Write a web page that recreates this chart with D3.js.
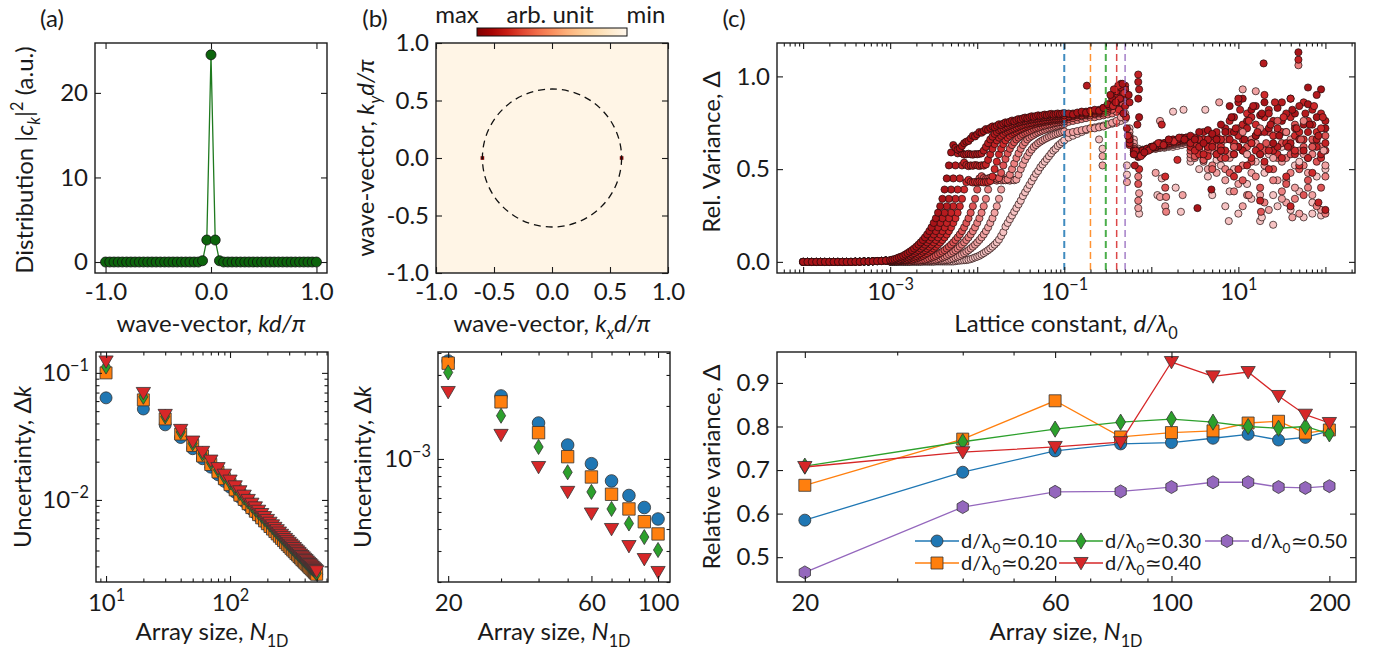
<!DOCTYPE html>
<html>
<head>
<meta charset="utf-8">
<script src="https://cdn.jsdelivr.net/npm/d3@7/dist/d3.min.js"></script>
<style>
  body { margin: 0; background: #fff; }
  svg text { font-family: Lato, "DejaVu Sans", sans-serif; fill: #1a1a1a; }
  .tick text { font-size: 24px; }
  .tick line { stroke: #1a1a1a; }
</style>
</head>
<body>
<svg id="fig" width="1380" height="654"></svg>
<script>
// ---------------- data ----------------
// (a) top: distribution |c_k|^2 vs kd/pi
const kGrid = d3.range(51).map(i => -1 + i * 0.04);
const distVals = [0,0,0,0,0,0,0,0,0,0, 0,0,0,0,0,0,0,0,0,0,
  0,0,0,0.15,2.6,24.5,2.6,0.15,0,0, 0,0,0,0,0,0,0,0,0,0, 0,0,0,0,0,0,0,0,0,0, 0];

// (b) top: bright spots of the 2D distribution
const spotKx = [-0.6, 0.6];
const spotKy = [0, 0];
const ringRadius = 0.6;

// (c) top: relative variance vs d/lambda0, log10 grids
const uTail = d3.range(20).map(i => -4 + i * 0.05);
const uMid = d3.range(81).map(i => -3 + i * 0.025);
const uPost = d3.range(28).map(i => -0.95 + i * 0.05);
const uNoise = d3.range(32).map(i => 0.45 + i * 0.05);

const relVarTail = [0,0,0,0,0,0,0,0,0,0,0,0,0.001,0.001,0.002,0.002,0.003,0.004,0.005,0.007];

const midA = [0.010,0.012,0.015,0.019,0.024,0.028,0.033,0.040,0.047,0.055,
  0.063,0.072,0.082,0.093,0.105,0.118,0.132,0.148,0.166,0.186,
  0.210,0.235,0.265,0.300,0.340,0.390,0.450,0.520,0.590,0.630,
  0.615,0.605,0.612,0.625,0.640,0.648,0.652,0.665,0.680,0.676,
  0.688,0.700,0.696,0.705,0.716,0.712,0.722,0.730,0.726,0.734,
  0.742,0.738,0.746,0.752,0.750,0.756,0.762,0.758,0.765,0.770,
  0.768,0.774,0.778,0.775,0.780,0.785,0.782,0.786,0.790,0.787,
  0.790,0.794,0.791,0.795,0.798,0.794,0.797,0.800,0.797,0.800, 0.802];
const midB = [0.007,0.008,0.009,0.010,0.012,0.015,0.019,0.024,0.028,0.033,
  0.040,0.047,0.055,0.063,0.072,0.082,0.093,0.105,0.118,0.132,
  0.148,0.166,0.186,0.210,0.235,0.265,0.300,0.340,0.390,0.450,
  0.520,0.585,0.600,0.585,0.578,0.580,0.583,0.580,0.578,0.581,
  0.580,0.582,0.585,0.600,0.620,0.640,0.660,0.675,0.690,0.700,
  0.710,0.715,0.720,0.726,0.730,0.735,0.740,0.745,0.748,0.752,
  0.755,0.758,0.760,0.763,0.766,0.768,0.770,0.772,0.774,0.776,
  0.778,0.780,0.781,0.782,0.784,0.785,0.786,0.787,0.788,0.789, 0.790];
const midC = [0.002,0.004,0.006,0.007,0.008,0.009,0.010,0.012,0.015,0.019,
  0.024,0.028,0.033,0.040,0.047,0.055,0.063,0.072,0.082,0.093,
  0.105,0.118,0.132,0.148,0.166,0.186,0.210,0.235,0.265,0.300,
  0.340,0.390,0.450,0.520,0.535,0.522,0.516,0.520,0.518,0.522,
  0.520,0.517,0.521,0.519,0.525,0.550,0.580,0.610,0.635,0.655,
  0.670,0.680,0.690,0.700,0.705,0.710,0.715,0.720,0.725,0.730,
  0.735,0.738,0.742,0.745,0.748,0.750,0.753,0.756,0.758,0.760,
  0.762,0.764,0.766,0.768,0.770,0.772,0.773,0.774,0.775,0.776, 0.778];
const midD = [0.002,0.002,0.002,0.002,0.004,0.006,0.007,0.008,0.009,0.010,
  0.012,0.015,0.019,0.024,0.028,0.033,0.040,0.047,0.055,0.063,
  0.072,0.082,0.093,0.105,0.118,0.132,0.148,0.166,0.186,0.210,
  0.235,0.265,0.300,0.340,0.390,0.430,0.442,0.432,0.428,0.431,
  0.429,0.432,0.430,0.428,0.431,0.430,0.436,0.460,0.500,0.540,
  0.580,0.610,0.635,0.655,0.670,0.680,0.690,0.697,0.703,0.710,
  0.715,0.720,0.725,0.730,0.734,0.738,0.742,0.745,0.748,0.750,
  0.753,0.755,0.757,0.759,0.761,0.763,0.765,0.766,0.767,0.768, 0.770];
const midE = [0.002,0.002,0.002,0.002,0.002,0.002,0.002,0.002,0.002,0.002,
  0.004,0.006,0.007,0.008,0.009,0.010,0.012,0.015,0.019,0.024,
  0.028,0.033,0.040,0.047,0.055,0.063,0.072,0.082,0.093,0.105,
  0.118,0.132,0.148,0.166,0.186,0.210,0.235,0.265,0.300,0.340,
  0.390,0.450,0.462,0.452,0.447,0.450,0.453,0.449,0.451,0.448,
  0.452,0.480,0.520,0.555,0.585,0.610,0.630,0.645,0.660,0.670,
  0.680,0.688,0.695,0.700,0.706,0.711,0.716,0.720,0.724,0.728,
  0.732,0.735,0.738,0.741,0.744,0.747,0.750,0.752,0.754,0.756, 0.758];
const midF = [0.002,0.002,0.002,0.002,0.002,0.002,0.002,0.002,0.002,0.002,
  0.002,0.002,0.002,0.002,0.002,0.004,0.006,0.007,0.008,0.009,
  0.010,0.012,0.015,0.019,0.024,0.028,0.033,0.040,0.047,0.055,
  0.063,0.072,0.082,0.093,0.105,0.118,0.132,0.148,0.166,0.186,
  0.210,0.235,0.265,0.300,0.340,0.390,0.440,0.452,0.442,0.438,
  0.441,0.439,0.442,0.440,0.445,0.470,0.500,0.530,0.560,0.585,
  0.610,0.630,0.645,0.660,0.670,0.678,0.685,0.692,0.698,0.703,
  0.708,0.712,0.716,0.720,0.724,0.728,0.731,0.734,0.737,0.740, 0.743];
const midG = [0.002,0.002,0.002,0.002,0.002,0.002,0.002,0.002,0.002,0.002,
  0.002,0.002,0.002,0.002,0.002,0.002,0.002,0.002,0.002,0.002,
  0.002,0.004,0.006,0.007,0.008,0.009,0.010,0.012,0.015,0.019,
  0.024,0.028,0.033,0.040,0.047,0.055,0.063,0.072,0.082,0.093,
  0.105,0.118,0.132,0.148,0.166,0.186,0.210,0.235,0.265,0.300,
  0.340,0.390,0.440,0.450,0.441,0.438,0.442,0.440,0.444,0.470,
  0.500,0.525,0.550,0.570,0.590,0.605,0.620,0.630,0.640,0.648,
  0.655,0.662,0.668,0.674,0.679,0.684,0.688,0.692,0.696,0.700, 0.703];
const midH = [0.002,0.002,0.002,0.002,0.002,0.002,0.002,0.002,0.002,0.002,
  0.002,0.002,0.002,0.002,0.002,0.002,0.002,0.002,0.002,0.002,
  0.002,0.002,0.002,0.002,0.002,0.002,0.002,0.002,0.002,0.002,
  0.004,0.006,0.007,0.008,0.009,0.010,0.012,0.015,0.019,0.024,
  0.028,0.033,0.040,0.047,0.055,0.063,0.072,0.082,0.093,0.105,
  0.120,0.140,0.160,0.190,0.210,0.230,0.250,0.270,0.290,0.310,
  0.330,0.355,0.375,0.395,0.415,0.435,0.455,0.475,0.490,0.510,
  0.525,0.540,0.555,0.570,0.585,0.600,0.610,0.625,0.635,0.645, 0.655];

const postA = [0.800,0.795,0.805,0.810,0.805,0.815,0.820,0.815,0.830,0.850,
  0.880,0.920,0.940,0.900,0.660,0.600,0.580,0.600,0.610,0.620,
  0.630,0.640,0.640,0.650,0.660,0.660,0.670,0.670];
const postB = [0.795,0.800,0.800,0.805,0.810,0.810,0.815,0.820,0.830,0.840,
  0.860,0.900,0.960,0.930,0.640,0.580,0.570,0.590,0.610,0.620,
  0.620,0.630,0.640,0.650,0.650,0.660,0.660,0.670];
const postC = [0.785,0.790,0.795,0.800,0.800,0.805,0.810,0.810,0.820,0.830,
  0.850,0.870,0.910,0.950,0.630,0.590,0.565,0.580,0.600,0.610,
  0.620,0.630,0.630,0.640,0.650,0.650,0.660,0.660];
const postD = [0.780,0.785,0.790,0.790,0.795,0.800,0.800,0.805,0.810,0.820,
  0.840,0.860,0.880,0.920,0.650,0.600,0.580,0.590,0.600,0.615,
  0.620,0.630,0.635,0.640,0.645,0.650,0.655,0.660];
const postE = [0.770,0.775,0.780,0.785,0.790,0.790,0.795,0.800,0.800,0.810,
  0.820,0.840,0.860,0.890,0.670,0.610,0.590,0.595,0.605,0.610,
  0.620,0.625,0.630,0.635,0.640,0.645,0.650,0.655];
const postF = [0.755,0.760,0.765,0.770,0.775,0.780,0.780,0.785,0.790,0.795,
  0.800,0.810,0.820,0.850,0.680,0.620,0.595,0.600,0.605,0.610,
  0.615,0.620,0.625,0.630,0.635,0.640,0.645,0.650];
const postG = [0.695,0.700,0.705,0.710,0.715,0.720,0.720,0.725,0.730,0.740,
  0.750,0.760,0.780,0.800,0.700,0.640,0.600,0.600,0.605,0.610,
  0.610,0.615,0.620,0.625,0.630,0.635,0.640,0.645];
const postH = [0.670,0.680,0.690,0.700,0.710,0.720,0.725,0.730,0.735,0.740,
  0.745,0.750,0.760,0.770,0.720,0.660,0.610,0.605,0.605,0.610,
  0.610,0.615,0.615,0.620,0.620,0.625,0.630,0.635];

const noiseA = [0.68,0.66,0.70,0.64,0.71,0.69,0.66,0.74,0.70,0.84, 0.70,0.62,0.88,0.76,0.82,0.68,0.79,0.86,0.72,0.64,
  0.83,0.76,0.70,0.88,0.80,0.66,0.74,0.85,0.62,0.78, 0.93,0.72];
const noiseB = [0.64,0.67,0.62,0.70,0.66,0.62,0.70,0.60,0.72,0.66, 0.78,0.86,0.60,0.72,0.64,0.84,0.58,0.70,0.80,0.76,
  0.62,0.86,0.80,0.64,0.72,0.84,0.60,0.70,0.82,0.66, 0.58,0.76];
const noiseC = [0.62,0.60,0.66,0.58,0.62,0.68,0.58,0.66,0.60,0.76, 0.58,0.68,0.74,0.52,0.78,0.60,0.70,0.54,0.82,0.60,
  0.72,0.56,0.64,0.78,0.58,0.70,0.86,0.56,0.74,0.62, 0.80,0.64];
const noiseD = [0.66,0.63,0.58,0.66,0.57,0.64,0.68,0.62,0.56,0.70, 0.64,0.50,0.66,0.80,0.56,0.74,0.62,0.78,0.50,0.68,
  0.58,0.70,0.46,0.62,0.68,0.52,0.66,0.76,0.48,0.70, 0.56,0.60];
const noiseE = [0.60,0.57,0.64,0.55,0.60,0.50,0.62,0.56,0.66,0.48, 0.58,0.72,0.44,0.62,0.54,0.68,0.40,0.60,0.70,0.50,
  0.56,0.64,0.42,0.58,0.74,0.50,0.62,0.44,0.66,0.54, 0.40,0.68];
const noiseF = [0.58,0.56,0.60,0.55,0.62,0.52,0.58,0.64,0.50,0.58, 0.38,0.62,0.52,0.36,0.66,0.46,0.58,0.32,0.62,0.44,
  0.70,0.38,0.56,0.48,0.34,0.60,0.52,0.40,0.58,0.30, 0.62,0.46];
const noiseG = [0.56,0.58,0.62,0.54,0.50,0.60,0.48,0.56,0.44,0.56, 0.62,0.42,0.30,0.58,0.48,0.64,0.36,0.52,0.28,0.60,
  0.44,0.54,0.32,0.66,0.40,0.26,0.58,0.48,0.36,0.64, 0.28,0.52];
const noiseH = [0.54,0.57,0.50,0.60,0.46,0.36,0.55,0.52,0.30,0.38, 0.50,0.26,0.60,0.42,0.34,0.54,0.22,0.48,0.58,0.36,
  0.30,0.62,0.44,0.28,0.52,0.38,0.24,0.56,0.32,0.46, 0.25,0.50];

// extra scattered points [log10(d/lambda0), value, shade index 0=dark..7=light]
const relVarExtra = [
  [-0.47,0.90,0],[-0.43,0.93,1],[-0.41,0.86,0],[-0.38,0.95,2],[-0.36,0.88,1],[-0.33,0.96,0],[-0.31,0.91,3],
  [-0.30,0.84,1],[-0.29,0.78,2],[-0.32,0.80,0],[-0.37,0.82,3],[-0.44,0.84,2],[-0.28,0.72,1],[-0.27,0.68,2],
  [-0.26,0.90,0],[-0.25,0.86,1],[-0.74,0.95,1],[-0.56,0.52,6],[-0.56,0.57,6],[-0.56,0.61,7],[-0.60,0.66,7],
  [-0.28,0.52,7],[-0.28,0.47,7],[-0.28,0.43,6],[-0.15,1.01,2],[-0.15,0.97,1],[-0.14,0.93,1],[-0.15,0.88,0],
  [-0.14,0.78,0],[-0.16,0.74,1],[-0.14,0.50,3],[-0.15,0.46,5],[-0.15,0.42,4],[-0.14,0.37,6],[-0.15,0.33,5],
  [-0.15,0.29,6],[-0.14,0.26,7],[-0.19,0.52,1],[0.05,0.48,6],[0.12,0.45,7],[0.07,0.36,7],[0.10,0.35,6],
  [0.16,0.46,3],[0.16,0.40,4],[0.17,0.35,5],[0.16,0.30,6],[0.17,0.27,5],[0.34,0.27,7],[0.25,0.81,7],
  [0.10,0.76,6],[0.12,0.74,2],[0.37,0.82,7],[0.30,0.55,3],[0.28,0.40,7],[0.36,0.36,6],
  [-0.20,0.58,0],[-0.18,0.60,1],[-0.12,0.57,2],[-0.08,0.59,0],[-0.03,0.60,1],[0.02,0.62,0],[0.08,0.64,2],
  [0.14,0.63,1],[0.20,0.66,0],[0.26,0.65,3],[0.32,0.67,1],[0.38,0.66,0],
  [1.29,1.07,1],[1.69,1.13,0],[1.69,1.09,2],[1.69,1.06,5],[0.53,0.29,0],[0.69,0.39,0],[0.89,0.22,7],
  [1.25,0.33,2],[1.26,0.27,4],[1.27,0.24,7],[1.60,0.30,2],[1.62,0.24,6],[1.85,0.26,7],[2.00,0.26,5],
  [2.00,0.28,1],[1.05,0.93,6],[1.20,0.92,6],[1.80,0.94,0],[1.40,0.20,7],[0.62,0.82,7],[0.78,0.86,6],
  [0.95,0.46,3],[1.12,0.36,5],[1.50,0.34,6],[1.75,0.36,4],[1.92,0.32,2],
  [0.92,0.78,0],[0.97,0.72,1],[1.02,0.82,2],[1.07,0.66,0],[1.12,0.76,3],[1.17,0.84,1],[1.22,0.70,2],
  [1.27,0.80,0],[1.32,0.64,4],[1.37,0.74,1],[1.42,0.86,2],[1.47,0.68,0],[1.52,0.78,3],[1.57,0.62,1],
  [1.62,0.82,0],[1.67,0.72,2],[1.72,0.66,4],[1.77,0.80,1],[1.82,0.74,0],[1.87,0.84,3],[1.92,0.68,1],
  [1.97,0.78,2],[0.95,0.62,4],[1.05,0.70,5],[1.15,0.64,3],[1.25,0.72,5],[1.35,0.60,2],[1.45,0.76,4],
  [1.55,0.70,5],[1.65,0.60,3],[1.75,0.76,5],[1.85,0.62,4],[1.95,0.72,3],[1.00,0.88,1],[1.30,0.90,3],
  [1.60,0.88,2],[1.90,0.90,1],[1.10,0.58,6],[1.40,0.56,6],[1.70,0.54,7],[1.98,0.60,6]
];
const markedRatios = [0.1, 0.2, 0.3, 0.4, 0.5];

// (a) bottom: uncertainty vs array size
const N1 = d3.range(10, 501, 10);
const dkBlue = [0.0636,0.0520,0.0390,0.0310,0.0253,0.0211,0.0181,0.0158,0.0140,0.0126,
  0.0115,0.0105,0.00970,0.00900,0.00840,0.00788,0.00742,0.00701,0.00664,0.00632,
  0.00602,0.00575,0.00550,0.00527,0.00506,0.00487,0.00469,0.00452,0.00437,0.00423,
  0.00409,0.00397,0.00385,0.00374,0.00364,0.00354,0.00345,0.00336,0.00328,0.00320,
  0.00313,0.00306,0.00299,0.00293,0.00287,0.00281,0.00276,0.00270,0.00265,0.00260];
const dkOrange = [0.100,0.0613,0.0434,0.0330,0.0268,0.0222,0.0190,0.0166,0.0147,0.0132,
  0.0120,0.0109,0.0101,0.00934,0.00870,0.00815,0.00766,0.00723,0.00684,0.00650,
  0.00618,0.00590,0.00564,0.00540,0.00518,0.00498,0.00479,0.00461,0.00445,0.00430,
  0.00416,0.00403,0.00391,0.00379,0.00369,0.00358,0.00349,0.00339,0.00331,0.00323,
  0.00315,0.00308,0.00301,0.00294,0.00288,0.00282,0.00276,0.00270,0.00265,0.00260];
const dkGreen = [0.112,0.0648,0.0453,0.0343,0.0278,0.0231,0.0197,0.0172,0.0152,0.0137,
  0.0124,0.0113,0.0104,0.00967,0.00901,0.00843,0.00793,0.00748,0.00707,0.00672,
  0.00639,0.00609,0.00582,0.00558,0.00535,0.00513,0.00494,0.00476,0.00459,0.00444,
  0.00429,0.00416,0.00403,0.00391,0.00380,0.00370,0.00359,0.00349,0.00341,0.00332,
  0.00324,0.00317,0.00309,0.00302,0.00295,0.00289,0.00283,0.00277,0.00271,0.00265];
const dkRed = [0.123,0.0695,0.0467,0.0356,0.0288,0.0239,0.0204,0.0178,0.0158,0.0142,
  0.0128,0.0117,0.0108,0.0100,0.00934,0.00874,0.00822,0.00775,0.00733,0.00696,
  0.00662,0.00631,0.00603,0.00578,0.00554,0.00532,0.00512,0.00493,0.00476,0.00460,
  0.00445,0.00431,0.00418,0.00405,0.00394,0.00383,0.00372,0.00362,0.00353,0.00344,
  0.00336,0.00328,0.00320,0.00313,0.00306,0.00299,0.00293,0.00287,0.00281,0.00275];

// (b) bottom
const N2 = [20, 30, 40, 50, 60, 70, 80, 90, 100];
const dk2Blue = [0.0036,0.00228,0.0016,0.0012,0.00094,0.00075,0.00062,0.00053,0.000456];
const dk2Orange = [0.0035,0.00211,0.00141,0.00103,0.00079,0.00063,0.00052,0.00044,0.000375];
const dk2Green = [0.0031,0.00176,0.00117,0.00084,0.00065,0.00052,0.00043,0.00036,0.000304];
const dk2Red = [0.0024,0.00137,0.0009,0.00065,0.00049,0.0004,0.00032,0.00027,0.000228];

// (c) bottom
const N3 = [20, 40, 60, 80, 100, 120, 140, 160, 180, 200];
const rvBlue = [0.585,0.695,0.744,0.760,0.763,0.773,0.782,0.769,0.775,0.790];
const rvOrange = [0.665,0.771,0.859,0.776,0.786,0.790,0.808,0.812,0.785,0.792];
const rvGreen = [0.709,0.765,0.794,0.810,0.817,0.810,0.800,0.796,0.800,0.783];
const rvRed = [0.707,0.741,0.753,0.764,0.948,0.915,0.925,0.870,0.827,0.808];
const rvPurple = [0.465,0.615,0.650,0.651,0.661,0.672,0.672,0.661,0.659,0.663];
const rvLabels = ["0.10", "0.20", "0.30", "0.40", "0.50"];

// ---------------- helpers ----------------
const svg = d3.select("#fig");
const FS = 24;
const tab = { blue: "#1f77b4", orange: "#ff7f0e", green: "#2ca02c", red: "#d62728", purple: "#9467bd" };

function rich(text, segs, fs) {
  let shift = 0;
  segs.forEach(s => {
    const target = s.sub ? 0.28 * fs : s.sup ? -0.42 * fs : 0;
    const ts = text.append("tspan").text(s.t);
    if (target - shift !== 0) ts.attr("dy", target - shift);
    shift = target;
    if (s.sub || s.sup) ts.attr("font-size", 0.68 * fs);
    if (s.it) ts.attr("font-style", "italic");
  });
}

function label(x, y, segs, rot, fs) {
  const t = svg.append("text").attr("text-anchor", "middle")
    .attr("transform", `translate(${x},${y})` + (rot ? " rotate(-90)" : ""))
    .attr("font-size", fs || FS);
  rich(t, segs, fs || FS);
  return t;
}

function pow10(d) {
  const e = Math.round(Math.log10(d));
  return [{ t: "10" }, { t: (e < 0 ? "\u2212" : "") + Math.abs(e), sup: true }];
}

function logMinor(lo, hi) {
  const out = [];
  for (let e = Math.floor(Math.log10(lo)); e <= Math.ceil(Math.log10(hi)); e++)
    for (let m = 2; m <= 9; m++) {
      const v = m * Math.pow(10, e);
      if (v >= lo && v <= hi) out.push(v);
    }
  return out;
}

function panel(box) {
  return svg.append("g").attr("transform", `translate(${box.x},${box.y})`);
}

function addAxes(g, box, xs, ys, o) {
  const w = box.w, h = box.h;
  const mk = (gen, tr, len, vals, fmt, pad) => {
    const a = g.append("g").attr("transform", tr)
      .call(gen.tickValues(vals).tickSizeInner(-len).tickSizeOuter(0).tickPadding(pad).tickFormat(() => ""));
    a.attr("font-family", null).attr("font-size", null);
    a.select(".domain").remove();
    a.selectAll(".tick line").attr("stroke-width", 1.1);
    a.selectAll(".tick text").each(function (d) {
      const segs = fmt ? fmt(d) : null;
      const t = d3.select(this);
      if (segs == null) { t.remove(); return; }
      rich(t, typeof segs === "string" ? [{ t: segs }] : segs, FS);
    });
  };
  mk(d3.axisBottom(xs), `translate(0,${h})`, 6, o.xMajor, o.xFmt, o.xPad || 12);
  mk(d3.axisTop(xs), "translate(0,0)", 6, o.xMajor, null, 3);
  mk(d3.axisLeft(ys), "translate(0,0)", 6, o.yMajor, o.yFmt, 7);
  mk(d3.axisRight(ys), `translate(${w},0)`, 6, o.yMajor, null, 3);
  if (o.xMinor) {
    mk(d3.axisBottom(xs), `translate(0,${h})`, 3.5, o.xMinor, null, 3);
    mk(d3.axisTop(xs), "translate(0,0)", 3.5, o.xMinor, null, 3);
  }
  if (o.yMinor) {
    mk(d3.axisLeft(ys), "translate(0,0)", 3.5, o.yMinor, null, 3);
    mk(d3.axisRight(ys), `translate(${w},0)`, 3.5, o.yMinor, null, 3);
  }
  g.append("rect").attr("width", w).attr("height", h)
    .attr("fill", "none").attr("stroke", "#1a1a1a").attr("stroke-width", 1.4);
}

function markerPath(type, s) {
  switch (type) {
    case "circle": return d3.symbol(d3.symbolCircle, Math.PI * s * s)();
    case "square": return `M${-s},${-s}H${s}V${s}H${-s}Z`;
    case "diamond": return `M0,${-s * 1.35}L${s * 0.82},0L0,${s * 1.35}L${-s * 0.82},0Z`;
    case "tri": return `M${-s * 1.1},${-s * 0.85}L${s * 1.1},${-s * 0.85}L0,${s * 1.05}Z`;
    case "hex": {
      const p = d3.range(6).map(i => {
        const a = Math.PI / 2 + i * Math.PI / 3;
        return [s * Math.cos(a), s * Math.sin(a)];
      });
      return "M" + p.map(q => q.join(",")).join("L") + "Z";
    }
  }
}

function drawMarkers(g, xs, ys, xv, yv, type, size, fill) {
  g.append("g").selectAll("path").data(xv.map((x, i) => [x, yv[i]])).join("path")
    .attr("d", markerPath(type, size))
    .attr("transform", d => `translate(${xs(d[0])},${ys(d[1])})`)
    .attr("fill", fill).attr("stroke", "#333").attr("stroke-width", 0.8);
}

const fmt1 = d => d.toFixed(1);

// ---------------- panel (a) top ----------------
{
  const box = { x: 95, y: 43, w: 232, h: 230 };
  const g = panel(box);
  const xs = d3.scaleLinear([-1.1, 1.1], [0, box.w]);
  const ys = d3.scaleLinear([-1.3, 25.9], [box.h, 0]);
  const pts = kGrid.map((k, i) => [k, distVals[i]]);
  g.append("path").datum(pts)
    .attr("d", d3.line().x(d => xs(d[0])).y(d => ys(d[1])))
    .attr("fill", "none").attr("stroke", "#1f7a1f").attr("stroke-width", 1.3);
  g.selectAll("circle.pt").data(pts).join("circle").attr("class", "pt")
    .attr("cx", d => xs(d[0])).attr("cy", d => ys(d[1])).attr("r", 5)
    .attr("fill", "#0c640c").attr("stroke", "#111").attr("stroke-width", 0.8);
  addAxes(g, box, xs, ys, { xMajor: [-1, 0, 1], xFmt: fmt1, xPad: 10, yMajor: [0, 10, 20], yFmt: d => String(d) });
}

// ---------------- panel (b) top ----------------
{
  const box = { x: 436, y: 43, w: 232, h: 230 };
  const g = panel(box);
  const xs = d3.scaleLinear([-1, 1], [0, box.w]);
  const ys = d3.scaleLinear([-1, 1], [box.h, 0]);
  g.append("rect").attr("width", box.w).attr("height", box.h).attr("fill", d3.interpolateOrRd(0.02));
  g.selectAll("rect.spot").data(spotKx.map((k, i) => [k, spotKy[i]])).join("rect").attr("class", "spot")
    .attr("x", d => xs(d[0]) - 1.8).attr("y", d => ys(d[1]) - 1.8).attr("width", 3.6).attr("height", 3.6)
    .attr("fill", d3.interpolateOrRd(1));
  g.append("ellipse").attr("cx", xs(0)).attr("cy", ys(0))
    .attr("rx", xs(ringRadius) - xs(0)).attr("ry", ys(0) - ys(ringRadius))
    .attr("fill", "none").attr("stroke", "#111").attr("stroke-width", 1.3).attr("stroke-dasharray", "7,5");
  const ticks = [-1, -0.5, 0, 0.5, 1];
  addAxes(g, box, xs, ys, { xMajor: ticks, xFmt: fmt1, xPad: 10, yMajor: ticks, yFmt: fmt1 });

  // colorbar
  const defs = svg.append("defs");
  const grad = defs.append("linearGradient").attr("id", "cbar");
  d3.range(11).forEach(i => grad.append("stop").attr("offset", i / 10).attr("stop-color", d3.interpolateOrRd(1 - i / 10)));
  svg.append("rect").attr("x", 477).attr("y", 28).attr("width", 150).attr("height", 8)
    .attr("fill", "url(#cbar)").attr("stroke", "#111").attr("stroke-width", 1);
  label(457, 23, [{ t: "max" }]);
  label(550, 23, [{ t: "arb. unit" }]);
  label(646, 23, [{ t: "min" }]);
}

// ---------------- panel (c) top ----------------
{
  const box = { x: 777, y: 43, w: 578, h: 230 };
  const g = panel(box);
  const xs = d3.scaleLog([Math.pow(10, -4.3), Math.pow(10, 2.34)], [0, box.w]);
  const ys = d3.scaleLinear([-0.06, 1.18], [box.h, 0]);
  const shade = d3.scaleLinear().domain([0, 3, 5, 7]).range(["#a81318", "#d02a2c", "#eb8080", "#f6c3c3"]);
  const curves = [
    [midA, postA, noiseA], [midB, postB, noiseB], [midC, postC, noiseC], [midD, postD, noiseD],
    [midE, postE, noiseE], [midF, postF, noiseF], [midG, postG, noiseG], [midH, postH, noiseH]
  ];
  const pts = [];
  for (let c = curves.length - 1; c >= 0; c--) {
    const [mid, post, noise] = curves[c];
    uTail.forEach((u, i) => pts.push([u, relVarTail[i], c]));
    uMid.forEach((u, i) => pts.push([u, mid[i], c]));
    uPost.forEach((u, i) => pts.push([u, post[i], c]));
    uNoise.forEach((u, i) => pts.push([u, noise[i], c]));
  }
  relVarExtra.slice().sort((a, b) => b[2] - a[2]).forEach(p => pts.push(p));
  g.append("g").selectAll("circle").data(pts).join("circle")
    .attr("cx", d => xs(Math.pow(10, d[0]))).attr("cy", d => ys(d[1])).attr("r", 3.6)
    .attr("fill", d => shade(d[2])).attr("stroke", "#1e0c0c").attr("stroke-width", 0.7);
  const dashCols = [tab.blue, tab.orange, tab.green, tab.red, tab.purple];
  g.selectAll("line.mark").data(markedRatios).join("line").attr("class", "mark")
    .attr("x1", d => xs(d)).attr("x2", d => xs(d)).attr("y1", 0).attr("y2", box.h)
    .attr("stroke", (d, i) => dashCols[i]).attr("stroke-opacity", 0.85)
    .attr("stroke-width", (d, i) => (i === 0 || i === 2) ? 2 : 1.5).attr("stroke-dasharray", "7,4");
  const major = d3.range(-4, 3).map(e => Math.pow(10, e));
  addAxes(g, box, xs, ys, {
    xMajor: major, xMinor: logMinor(xs.domain()[0], xs.domain()[1]), xPad: 10,
    xFmt: d => { const e = Math.round(Math.log10(d)); return (e === -3 || e === -1 || e === 1) ? pow10(d) : null; },
    yMajor: [0, 0.5, 1], yFmt: fmt1
  });
}

// ---------------- panel (a) bottom ----------------
{
  const box = { x: 96, y: 352, w: 232, h: 230 };
  const g = panel(box);
  const xs = d3.scaleLog([8.3, 617], [0, box.w]);
  const ys = d3.scaleLog([0.00226, 0.146], [box.h, 0]);
  drawMarkers(g, xs, ys, N1, dkBlue, "circle", 6, tab.blue);
  drawMarkers(g, xs, ys, N1, dkOrange, "square", 6, tab.orange);
  drawMarkers(g, xs, ys, N1, dkGreen, "diamond", 5.5, tab.green);
  drawMarkers(g, xs, ys, N1, dkRed, "tri", 6.5, tab.red);
  addAxes(g, box, xs, ys, {
    xMajor: [10, 100], xMinor: logMinor(8.3, 617), xFmt: pow10,
    yMajor: [0.01, 0.1], yMinor: logMinor(0.00226, 0.146), yFmt: pow10
  });
}

// ---------------- panel (b) bottom ----------------
{
  const box = { x: 438, y: 352, w: 232, h: 230 };
  const g = panel(box);
  const xs = d3.scaleLog([18.5, 109.6], [0, box.w]);
  const ys = d3.scaleLog([0.0002, 0.00405], [box.h, 0]);
  drawMarkers(g, xs, ys, N2, dk2Blue, "circle", 6.3, tab.blue);
  drawMarkers(g, xs, ys, N2, dk2Orange, "square", 6.2, tab.orange);
  drawMarkers(g, xs, ys, N2, dk2Green, "diamond", 5.6, tab.green);
  drawMarkers(g, xs, ys, N2, dk2Red, "tri", 6.5, tab.red);
  addAxes(g, box, xs, ys, {
    xMajor: [20, 60, 100], xMinor: [30, 40, 50, 70, 80, 90], xFmt: d => String(d),
    yMajor: [0.001], yMinor: logMinor(0.0002, 0.00405), yFmt: pow10
  });
}

// ---------------- panel (c) bottom ----------------
{
  const box = { x: 777, y: 352, w: 579, h: 230 };
  const g = panel(box);
  const xs = d3.scaleLog([17.7, 224.8], [0, box.w]);
  const ys = d3.scaleLinear([0.443, 0.971], [box.h, 0]);
  const series = [
    [rvBlue, tab.blue, "circle", 6],
    [rvOrange, tab.orange, "square", 6],
    [rvGreen, tab.green, "diamond", 6],
    [rvRed, tab.red, "tri", 6.5],
    [rvPurple, tab.purple, "hex", 6.5]
  ];
  const line = d3.line().x(d => xs(d[0])).y(d => ys(d[1]));
  series.forEach(([vals, col, type, s]) => {
    g.append("path").datum(N3.map((n, i) => [n, vals[i]])).attr("d", line)
      .attr("fill", "none").attr("stroke", col).attr("stroke-width", 1.3);
    drawMarkers(g, xs, ys, N3, vals, type, s, col);
  });
  addAxes(g, box, xs, ys, {
    xMajor: [20, 60, 100, 200], xMinor: [30, 40, 50, 70, 80, 90], xFmt: d => String(d),
    yMajor: [0.5, 0.6, 0.7, 0.8, 0.9], yFmt: fmt1
  });

  // legend: each entry = line + marker + label pieces laid out side by side
  const leg = [
    { s: series[0], x0: 915, y: 541, lab: rvLabels[0] },
    { s: series[1], x0: 915, y: 563, lab: rvLabels[1] },
    { s: series[2], x0: 1059, y: 541, lab: rvLabels[2] },
    { s: series[3], x0: 1059, y: 563, lab: rvLabels[3] },
    { s: series[4], x0: 1205, y: 541, lab: rvLabels[4] }
  ];
  leg.forEach(L => {
    const [, col, type, s] = L.s;
    svg.append("line").attr("x1", L.x0).attr("x2", L.x0 + 44).attr("y1", L.y).attr("y2", L.y)
      .attr("stroke", col).attr("stroke-width", 1.3);
    svg.append("path").attr("d", markerPath(type, s))
      .attr("transform", `translate(${L.x0 + 22},${L.y})`)
      .attr("fill", col).attr("stroke", "#333").attr("stroke-width", 0.8);
    const parts = [{ t: "d/\u03bb" }, { t: "0", sub: true }, { t: "\u2243" + L.lab }];
    const lay = fs => {
      const gl = svg.append("g");
      let x = L.x0 + 46;
      parts.forEach(p => {
        const t = gl.append("text").attr("x", x)
          .attr("y", L.y + 0.36 * fs + (p.sub ? 0.26 * fs : 0))
          .attr("font-size", p.sub ? 0.68 * fs : fs).text(p.t);
        x += t.node().getComputedTextLength() + 0.5;
      });
      return { gl, width: x - (L.x0 + 46) };
    };
    let r = lay(20);
    if (r.width > 97) { r.gl.remove(); r = lay(20 * 97 / r.width); }
  });
}

// ---------------- labels ----------------
label(52, 27, [{ t: "(a)" }]);
label(375, 27, [{ t: "(b)" }]);
label(734, 27, [{ t: "(c)" }]);

label(211, 332, [{ t: "wave-vector, " }, { t: "kd/\u03c0", it: true }]);
label(33, 160, [{ t: "Distribution |" }, { t: "c", it: true }, { t: "k", it: true, sub: true }, { t: "|" }, { t: "2", sup: true }, { t: " (a.u.)" }], true);
label(552, 332, [{ t: "wave-vector, " }, { t: "k", it: true }, { t: "x", it: true, sub: true }, { t: "d/\u03c0", it: true }]);
label(374, 158, [{ t: "wave-vector, " }, { t: "k", it: true }, { t: "y", it: true, sub: true }, { t: "d/\u03c0", it: true }], true);
label(1066, 332, [{ t: "Lattice constant, " }, { t: "d/\u03bb", it: true }, { t: "0", sub: true }]);
label(720, 152, [{ t: "Rel. Variance, \u0394" }], true);

label(212, 640, [{ t: "Array size, " }, { t: "N", it: true }, { t: "1D", sub: true }]);
label(31, 467, [{ t: "Uncertainty, \u0394" }, { t: "k", it: true }], true);
label(554, 640, [{ t: "Array size, " }, { t: "N", it: true }, { t: "1D", sub: true }]);
label(371, 467, [{ t: "Uncertainty,  \u0394" }, { t: "k", it: true }], true);
label(1066, 640, [{ t: "Array size, " }, { t: "N", it: true }, { t: "1D", sub: true }]);
label(720, 467, [{ t: "Relative variance, \u0394" }], true);
</script>
</body>
</html>
